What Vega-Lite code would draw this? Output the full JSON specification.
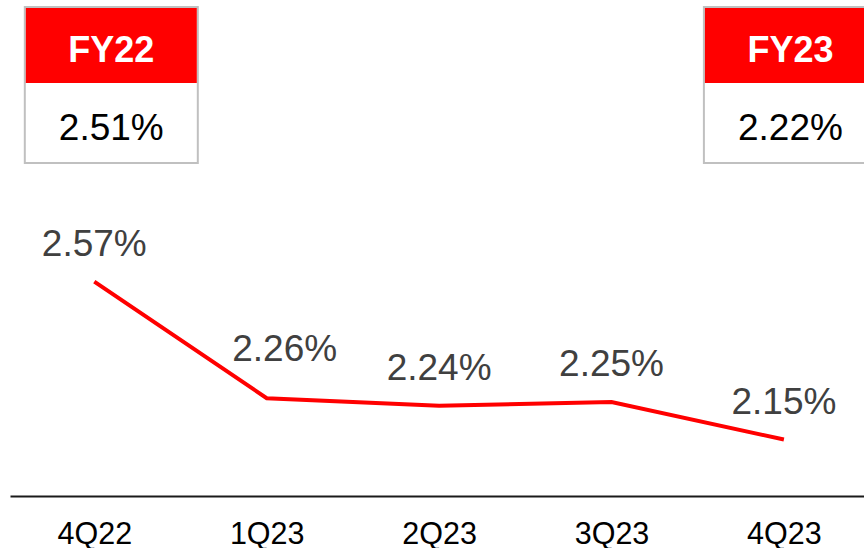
{
  "$schema": "https://vega.github.io/schema/vega-lite/v6.json",
  "width": 854,
  "height": 496,
  "autosize": {"type": "none"},
  "padding": {"left": 10, "top": 0, "right": 0, "bottom": 52},
  "config": {"view": {"stroke": null}, "font": "Liberation Sans"},
  "datasets": {
    "rates": [
      {"quarter": "4Q22", "rate": 2.57, "label": "2.57%"},
      {"quarter": "1Q23", "rate": 2.26, "label": "2.26%"},
      {"quarter": "2Q23", "rate": 2.24, "label": "2.24%"},
      {"quarter": "3Q23", "rate": 2.25, "label": "2.25%"},
      {"quarter": "4Q23", "rate": 2.15, "label": "2.15%"}
    ],
    "boxes": [
      {"fy": "FY22", "value": "2.51%", "quarter": "4Q22"},
      {"fy": "FY23", "value": "2.22%", "quarter": "4Q23"}
    ]
  },
  "layer": [
    {
      "data": {"name": "rates"},
      "mark": {"type": "line", "color": "#ff0000", "strokeWidth": 4},
      "encoding": {
        "x": {
          "field": "quarter", "type": "ordinal", "sort": null,
          "scale": {"type": "point", "domain": ["4Q22", "1Q23", "2Q23", "3Q23", "4Q23"], "padding": 0.4768, "align": 0.5128},
          "axis": {"title": null, "domain": true, "domainColor": "#1a1a1a", "domainWidth": 2, "ticks": false, "grid": false, "labelFontSize": 30.5, "labelColor": "#000000", "labelAngle": 0, "labelBaseline": "alphabetic", "labelPadding": 47, "labelFont": "Liberation Sans"}
        },
        "y": {
          "field": "rate", "type": "quantitative",
          "scale": {"domain": [2.0, 3.3185], "zero": false, "nice": false},
          "axis": null
        }
      }
    },
    {
      "data": {"name": "rates"},
      "mark": {
        "type": "text", "fontSize": 37, "color": "#404040", "baseline": "alphabetic", "align": "center",
        "dx": {"expr": "datum.quarter === '1Q23' ? 18 : 0"},
        "dy": {"expr": "datum.quarter === '1Q23' ? -37 : -26"}
      },
      "encoding": {
        "x": {"field": "quarter", "type": "ordinal", "sort": null},
        "y": {"field": "rate", "type": "quantitative"},
        "text": {"field": "label"}
      }
    },
    {
      "data": {"name": "boxes"},
      "mark": {
        "type": "rect", "width": 173, "fill": "#ffffff", "stroke": "#c0c0c0", "strokeWidth": 2, "clip": true,
        "xOffset": {"expr": "datum.fy === 'FY22' ? 17 : 6.5"}
      },
      "encoding": {
        "x": {"field": "quarter", "type": "ordinal", "sort": null},
        "y": {"datum": 3.30},
        "y2": {"datum": 2.8852}
      }
    },
    {
      "data": {"name": "boxes"},
      "mark": {
        "type": "rect", "width": 171, "fill": "#ff0000", "clip": true,
        "xOffset": {"expr": "datum.fy === 'FY22' ? 17 : 6.5"}
      },
      "encoding": {
        "x": {"field": "quarter", "type": "ordinal", "sort": null},
        "y": {"datum": 3.2972},
        "y2": {"datum": 3.0978}
      }
    },
    {
      "data": {"name": "boxes"},
      "mark": {
        "type": "text", "fontSize": 36, "fontWeight": "bold", "color": "#ffffff", "baseline": "alphabetic", "align": "center",
        "dx": {"expr": "datum.fy === 'FY22' ? 17 : 6.5"}
      },
      "encoding": {
        "x": {"field": "quarter", "type": "ordinal", "sort": null},
        "y": {"datum": 3.1536},
        "text": {"field": "fy"}
      }
    },
    {
      "data": {"name": "boxes"},
      "mark": {
        "type": "text", "fontSize": 37, "color": "#000000", "baseline": "alphabetic", "align": "center",
        "dx": {"expr": "datum.fy === 'FY22' ? 17 : 6.5"}
      },
      "encoding": {
        "x": {"field": "quarter", "type": "ordinal", "sort": null},
        "y": {"datum": 2.9463},
        "text": {"field": "value"}
      }
    }
  ]
}
